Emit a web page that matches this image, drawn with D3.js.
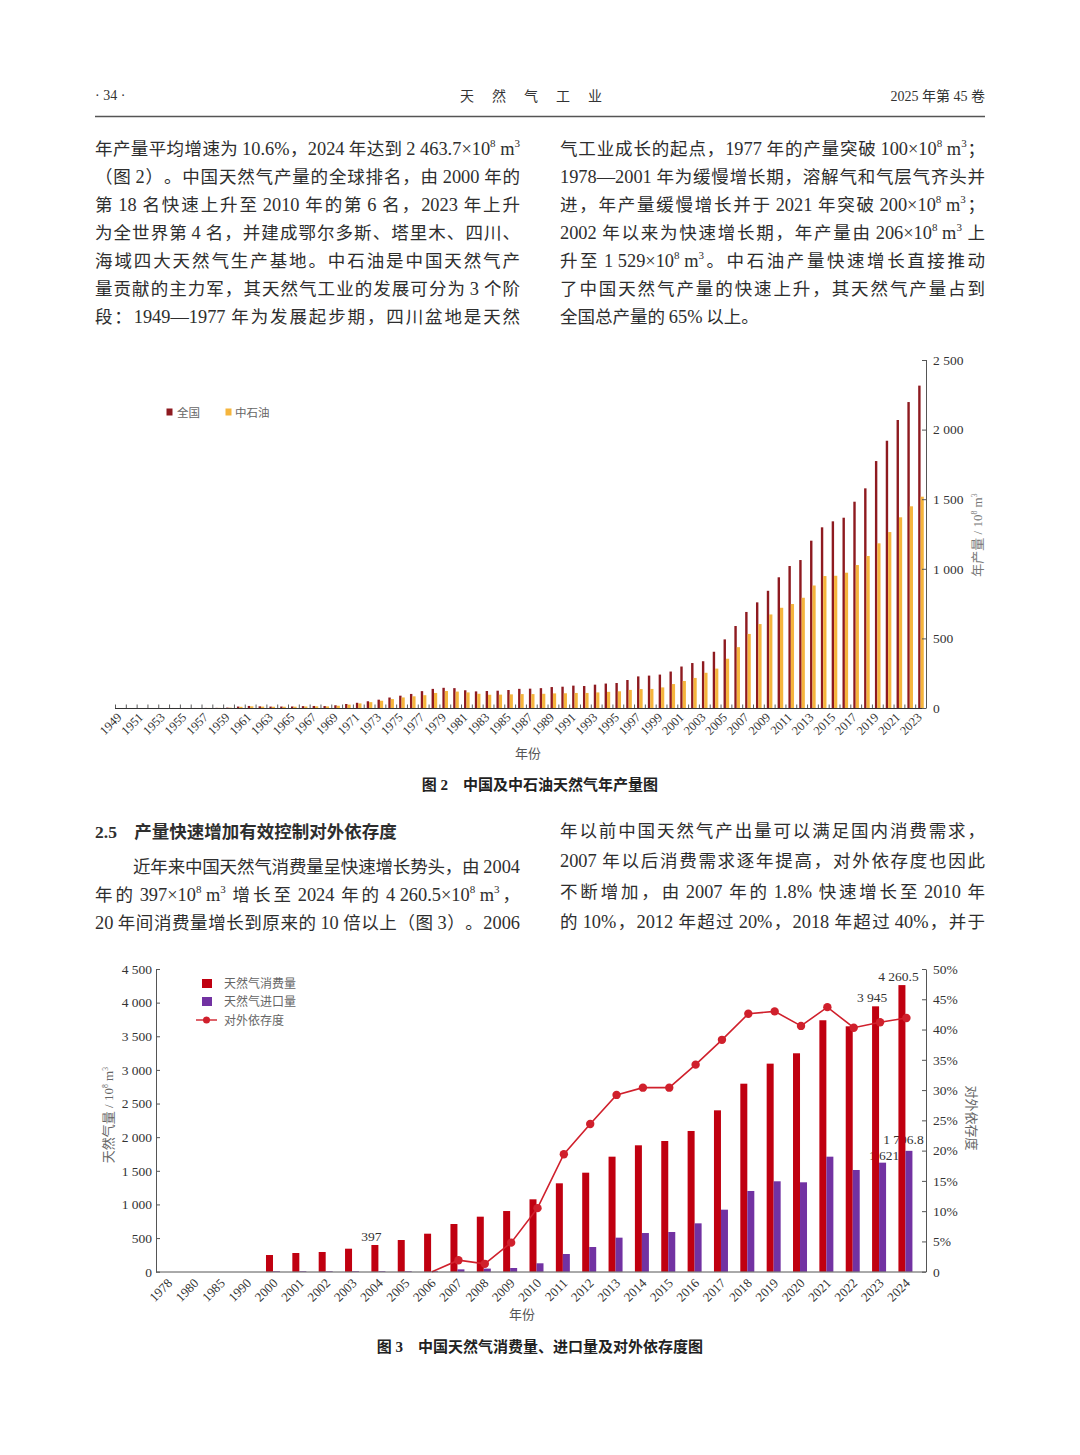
<!DOCTYPE html>
<html><head><meta charset="utf-8">
<script src="https://cdn.jsdelivr.net/npm/d3@7"></script>
<style>body{margin:0;background:#fff}svg{display:block}text{white-space:pre}</style>
</head><body>
<script>
// ---------- Chart 2 data ----------
const prodYears = [1949,1950,1951,1952,1953,1954,1955,1956,1957,1958,1959,1960,1961,1962,1963,1964,1965,1966,1967,1968,1969,
1970,1971,1972,1973,1974,1975,1976,1977,1978,1979,1980,1981,1982,1983,1984,1985,1986,1987,1988,1989,
1990,1991,1992,1993,1994,1995,1996,1997,1998,1999,2000,2001,2002,2003,2004,2005,2006,2007,2008,2009,
2010,2011,2012,2013,2014,2015,2016,2017,2018,2019,2020,2021,2022,2023];
const nationalProd = [0.1,0.1,0.1,0.1,0.1,0.2,0.2,0.3,0.7,1.1,2.9,10.4,14.7,12.1,10.2,10.6,11.0,13.4,14.6,14.0,19.6,
28.7,37.4,48.4,59.8,75.3,88.5,101.0,121.2,137.3,145.1,142.7,127.4,119.3,122.1,124.3,129.3,137.6,138.9,142.6,150.5,
153.0,160.7,157.9,167.7,175.6,179.5,201.1,227.0,232.8,240,262,298,323,336,404,493,589,690,759,842,
939,1020,1063,1202,1298,1341,1367,1482,1578,1774,1920,2069,2198,2316];
const cnpcProd = [0.1,0.1,0.1,0.1,0.1,0.2,0.2,0.3,0.6,1.0,2.5,8.5,12,10,9,9,9.5,11,12,11.5,16,
24,33,42,52,64,76,84,92,108,122,118,112,102,95,96,98,100,100,102,105,
106,108,108,112,116,120,130,136,137,148,172,194,216,253,283,354,437,532,603,672,
720,747,792,880,948,950,972,1027,1092,1183,1264,1370,1449,1518];
const prodTickLabels = ["1949","1951","1953","1955","1957","1959","1961","1963","1965","1967","1969","1971","1973","1975","1977","1979","1981","1983","1985","1987","1989","1991","1993","1995","1997","1999","2001","2003","2005","2007","2009","2011","2013","2015","2017","2019","2021","2023"];
const prodTicks = [0,500,1000,1500,2000,2500];

// ---------- Chart 3 data ----------
const consYears = ["1978","1980","1985","1990","2000","2001","2002","2003","2004","2005","2006","2007","2008","2009","2010","2011","2012","2013","2014","2015","2016","2017","2018","2019","2020","2021","2022","2023","2024"];
const consumption = [null,null,null,null,248,278,293,342,397,471,565,709,818,902,1076,1314,1472,1710,1879,1943,2092,2399,2795,3093,3247,3738,3648,3945,4260.5];
const imports = [null,null,null,null,8,8,8,8,8,8,8,35,46,55,125,263,367,506,575,590,719,922,1200,1344,1329,1710,1512,1621,1796.8];
const dependency = [null,null,null,null,null,null,null,null,null,null,0,1.9,1.3,4.8,10.5,19.4,24.4,29.2,30.4,30.4,34.2,38.3,42.6,43.0,40.6,43.7,40.3,41.2,41.9];
const consLabelYears = ["2004","2023","2024"];
const importLabelYears = ["2023","2024"];
const gasTicks = [0,500,1000,1500,2000,2500,3000,3500,4000,4500];
const depTicks = [0,5,10,15,20,25,30,35,40,45,50];

// ---------- helpers ----------
const SERIF = '"Liberation Serif","Noto Sans CJK SC",serif';
const CJK = '"Liberation Serif","Noto Sans CJK SC",sans-serif';
const fmt = d3.formatLocale({decimal:".",thousands:" ",grouping:[3],currency:["",""]}).format(",");

const svg = d3.select("body").append("svg").attr("width",1080).attr("height",1455);
svg.append("rect").attr("width",1080).attr("height",1455).attr("fill","#fff");

function rich(t, str, fs){
  const parts = str.split(/(\^\d)/);
  let sup = false;
  parts.forEach(p=>{
    if(!p) return;
    if(p[0]==="^"){
      t.append("tspan").attr("font-size",fs*0.6).attr("dy",-fs*0.42).text(p.slice(1));
      sup = true;
    } else {
      const s = t.append("tspan").text(p);
      if(sup){ s.attr("dy",fs*0.42); sup=false; }
    }
  });
  return t;
}
const isCJK = ch => /[\u3001-\u303f\u3400-\u9fff\uff00-\uffef]/.test(ch);
const isPunct = s => /^[，。：；、（）！？]$/.test(s);
// justified line: CJK chars and Latin runs are tokens; extra space spread between tokens
function bodyLine(x,y,w,str,opt={}){
  const fs = opt.fs||17.5;
  const g = svg.append("g").attr("font-family",CJK).attr("font-size",fs).attr("fill","#2e2e2e")
    .attr("font-weight",opt.bold?700:400);
  const toks = []; let buf = "";
  for(const ch of str){
    if(isCJK(ch)){ if(buf.trim()) toks.push({t:buf.trim(),c:false}); buf=""; toks.push({t:ch,c:true}); }
    else buf += ch;
  }
  if(buf.trim()) toks.push({t:buf.trim(),c:false});
  toks.forEach(tk=>{
    const lfs = tk.c ? fs : fs*1.05;
    tk.el = rich(g.append("text").attr("y",y).attr("font-size",lfs),tk.t,lfs);
    tk.w = tk.el.node().getComputedTextLength();
  });
  const base = toks.map((tk,i)=>{
    if(i===0) return 0;
    const p = toks[i-1];
    if(p.c===tk.c) return 0;
    if(isPunct(p.t)||isPunct(tk.t)) return 0;
    return fs*0.22;
  });
  const total = d3.sum(toks,d=>d.w)+d3.sum(base);
  const extra = w && toks.length>1 ? (w-total)/(toks.length-1) : 0;
  let cx = x;
  toks.forEach((tk,i)=>{
    if(i>0) cx += base[i]+extra;
    tk.el.attr("x",cx);
    cx += tk.w;
  });
}

// ---------- header ----------
svg.append("text").attr("x",95).attr("y",100).attr("font-family",SERIF).attr("font-size",14).attr("fill","#333").text("· 34 ·");
svg.append("text").attr("x","460 492 524 556 588").attr("y",101).attr("font-family",CJK).attr("font-size",14).attr("fill","#333").text("天然气工业");
svg.append("text").attr("x",985).attr("y",101).attr("text-anchor","end").attr("font-family",CJK).attr("font-size",14).attr("fill","#333").text("2025 年第 45 卷");
svg.append("line").attr("x1",95).attr("x2",985).attr("y1",116.5).attr("y2",116.5).attr("stroke","#555").attr("stroke-width",1.3);

// ---------- body text block 1 ----------
const L1 = [
 "年产量平均增速为 10.6%，2024 年达到 2 463.7×10^8 m^3",
 "（图 2）。中国天然气产量的全球排名，由 2000 年的",
 "第 18 名快速上升至 2010 年的第 6 名，2023 年上升",
 "为全世界第 4 名，并建成鄂尔多斯、塔里木、四川、",
 "海域四大天然气生产基地。中石油是中国天然气产",
 "量贡献的主力军，其天然气工业的发展可分为 3 个阶",
 "段：1949—1977 年为发展起步期，四川盆地是天然"];
const R1 = [
 "气工业成长的起点，1977 年的产量突破 100×10^8 m^3；",
 "1978—2001 年为缓慢增长期，溶解气和气层气齐头并",
 "进，年产量缓慢增长并于 2021 年突破 200×10^8 m^3；",
 "2002 年以来为快速增长期，年产量由 206×10^8 m^3 上",
 "升至 1 529×10^8 m^3。中石油产量快速增长直接推动",
 "了中国天然气产量的快速上升，其天然气产量占到",
 "全国总产量的 65% 以上。"];
L1.forEach((s,i)=>bodyLine(95,155+i*28,425,s));
R1.forEach((s,i)=>bodyLine(560,155+i*28,i===6?null:425,s));

// ---------- block 2 ----------
svg.append("text").attr("x",95).attr("y",838).attr("font-family",CJK).attr("font-size",17.5).attr("font-weight",700).attr("fill","#2e2e2e").text("2.5　产量快速增加有效控制对外依存度");
bodyLine(133,873,387,"近年来中国天然气消费量呈快速增长势头，由 2004");
bodyLine(95,901,425,"年的 397×10^8 m^3 增长至 2024 年的 4 260.5×10^8 m^3，");
bodyLine(95,929,425,"20 年间消费量增长到原来的 10 倍以上（图 3）。2006");
["年以前中国天然气产出量可以满足国内消费需求，",
 "2007 年以后消费需求逐年提高，对外依存度也因此",
 "不断增加，由 2007 年的 1.8% 快速增长至 2010 年",
 "的 10%，2012 年超过 20%，2018 年超过 40%，并于"].forEach((s,i)=>bodyLine(560,[837,867,898,928][i],425,s));

// ---------- Chart 2 ----------
const g2 = svg.append("g");
const x2 = d3.scaleBand(prodYears,[115,926]);
const y2 = d3.scaleLinear([0,2500],[708,360]);
const bw2 = x2.bandwidth();
g2.selectAll(".nat").data(prodYears).join("rect")
  .attr("x",d=>x2(d)+3).attr("width",2.4)
  .attr("y",(d,i)=>y2(nationalProd[i])).attr("height",(d,i)=>y2(0)-y2(nationalProd[i]))
  .attr("fill","#8E1A20");
g2.selectAll(".cnpc").data(prodYears).join("rect")
  .attr("x",d=>x2(d)+5.4).attr("width",3.2)
  .attr("y",(d,i)=>y2(cnpcProd[i])).attr("height",(d,i)=>y2(0)-y2(cnpcProd[i]))
  .attr("fill","#F5B53D");
g2.append("line").attr("x1",115).attr("x2",926).attr("y1",708.5).attr("y2",708.5).attr("stroke","#333").attr("stroke-width",1);
g2.selectAll(".xt").data(prodYears).join("line")
  .attr("x1",d=>x2(d)+0.5).attr("x2",d=>x2(d)+0.5).attr("y1",708).attr("y2",704.5)
  .attr("stroke","#333").attr("stroke-width",0.8);
g2.selectAll(".xl").data(prodTickLabels).join("text")
  .attr("transform",d=>`translate(${x2(+d)+bw2/2+2},718) rotate(-45)`)
  .attr("text-anchor","end").attr("font-family",SERIF).attr("font-size",12.5).attr("fill","#333").text(d=>d);
const ax2 = g2.append("g").attr("transform","translate(926,0)")
  .call(d3.axisRight(y2).tickValues(prodTicks).tickSize(-4).tickSizeOuter(0).tickPadding(7).tickFormat(fmt));
ax2.selectAll("path,line").attr("stroke","#555");
ax2.selectAll("text").attr("font-family",SERIF).attr("font-size",13.5).attr("fill","#333");
ax2.select(".domain").attr("d","M0.5,360V708.5");
rich(g2.append("text").attr("transform","translate(982,535) rotate(-90)").attr("text-anchor","middle")
  .attr("font-family",CJK).attr("font-size",13).attr("fill","#777"),"年产量 / 10^8 m^3",13);
g2.append("text").attr("x",528).attr("y",758).attr("text-anchor","middle").attr("font-family",CJK).attr("font-size",13).attr("fill","#555").text("年份");
g2.append("rect").attr("x",166.5).attr("y",408.5).attr("width",6).attr("height",7).attr("fill","#8E1A20");
g2.append("text").attr("x",177).attr("y",416.5).attr("font-family",CJK).attr("font-size",11.5).attr("fill","#666").text("全国");
g2.append("rect").attr("x",225.5).attr("y",408.5).attr("width",6).attr("height",7).attr("fill","#F5B53D");
g2.append("text").attr("x",235).attr("y",416.5).attr("font-family",CJK).attr("font-size",11.5).attr("fill","#666").text("中石油");
svg.append("text").attr("x",540).attr("y",790).attr("text-anchor","middle").attr("font-family",CJK).attr("font-size",15).attr("font-weight",700).attr("fill","#222").text("图 2　中国及中石油天然气年产量图");

// ---------- Chart 3 ----------
const g3 = svg.append("g");
const x3 = d3.scaleBand(consYears,[155.4,919.6]);
const c3 = d=>x3(d)+x3.bandwidth()/2;
const y3 = d3.scaleLinear([0,4500],[1271.7,969]);
const yr = d3.scaleLinear([0,50],[1271.7,969]);
consLabelYears.forEach(yy=>{
  const i = consYears.indexOf(yy);
  g3.append("text").attr("x",c3(yy)-8).attr("y",y3(consumption[i])-4).attr("text-anchor","middle")
    .attr("font-family",SERIF).attr("font-size",13.5).attr("fill","#333").text(fmt(consumption[i]));
});
importLabelYears.forEach(yy=>{
  const i = consYears.indexOf(yy);
  const last = yy==="2024";
  g3.append("text").attr("x",c3(yy)+(last?-3:4)).attr("y",y3(imports[i])-(last?7:3)).attr("text-anchor","middle")
    .attr("font-family",SERIF).attr("font-size",13.5).attr("fill","#333").text(fmt(imports[i]));
});
g3.selectAll(".cons").data(consYears.filter((d,i)=>consumption[i]!=null)).join("rect")
  .attr("x",d=>c3(d)-8).attr("width",7)
  .attr("y",d=>y3(consumption[consYears.indexOf(d)])).attr("height",d=>y3(0)-y3(consumption[consYears.indexOf(d)]))
  .attr("fill","#C00010");
g3.selectAll(".imp").data(consYears.filter((d,i)=>imports[i]!=null)).join("rect")
  .attr("x",d=>c3(d)-1).attr("width",7)
  .attr("y",d=>y3(imports[consYears.indexOf(d)])).attr("height",d=>y3(0)-y3(imports[consYears.indexOf(d)]))
  .attr("fill","#7232A2");
const depPts = consYears.map((d,i)=>[d,dependency[i]]);
g3.append("path").datum(depPts)
  .attr("d",d3.line().defined(d=>d[1]!=null).x(d=>c3(d[0])).y(d=>yr(d[1])))
  .attr("fill","none").attr("stroke","#D0202C").attr("stroke-width",1.6);
g3.selectAll(".dot").data(depPts.filter(d=>d[1]!=null && d[1]>0)).join("circle")
  .attr("cx",d=>c3(d[0])).attr("cy",d=>yr(d[1])).attr("r",4.2).attr("fill","#D0202C");
g3.append("line").attr("x1",156).attr("x2",926).attr("y1",1272).attr("y2",1272).attr("stroke","#555");
const axL = g3.append("g").attr("transform","translate(156,0)")
  .call(d3.axisLeft(y3).tickValues(gasTicks).tickSize(-4).tickSizeOuter(0).tickPadding(4).tickFormat(fmt));
axL.selectAll("path,line").attr("stroke","#555");
axL.selectAll("text").attr("font-family",SERIF).attr("font-size",13.5).attr("fill","#333");
const axR = g3.append("g").attr("transform","translate(926,0)")
  .call(d3.axisRight(yr).tickValues(depTicks).tickSize(-4).tickSizeOuter(0).tickPadding(7).tickFormat(v=>v===0?"0":v+"%"));
axR.selectAll("path,line").attr("stroke","#555");
axR.selectAll("text").attr("font-family",SERIF).attr("font-size",13.5).attr("fill","#333");
g3.selectAll(".xl3").data(consYears).join("text")
  .attr("transform",d=>`translate(${c3(d)+4.5},1284) rotate(-45)`)
  .attr("text-anchor","end").attr("font-family",SERIF).attr("font-size",13).attr("fill","#333").text(d=>d);
rich(g3.append("text").attr("transform","translate(113,1115) rotate(-90)").attr("text-anchor","middle")
  .attr("font-family",CJK).attr("font-size",13).attr("fill","#666"),"天然气量 / 10^8 m^3",13);
g3.append("text").attr("transform","translate(967,1118) rotate(90)").attr("text-anchor","middle")
  .attr("font-family",CJK).attr("font-size",13).attr("fill","#666").text("对外依存度");
g3.append("text").attr("x",522).attr("y",1319).attr("text-anchor","middle").attr("font-family",CJK).attr("font-size",13).attr("fill","#555").text("年份");
g3.append("rect").attr("x",202).attr("y",979).attr("width",10).attr("height",9).attr("fill","#C00010");
g3.append("text").attr("x",224).attr("y",988).attr("font-family",CJK).attr("font-size",12).attr("fill","#666").text("天然气消费量");
g3.append("rect").attr("x",202).attr("y",997).attr("width",10).attr("height",9).attr("fill","#7232A2");
g3.append("text").attr("x",224).attr("y",1006).attr("font-family",CJK).attr("font-size",12).attr("fill","#666").text("天然气进口量");
g3.append("line").attr("x1",196).attr("x2",217).attr("y1",1020).attr("y2",1020).attr("stroke","#D0202C").attr("stroke-width",1.4);
g3.append("circle").attr("cx",206.5).attr("cy",1020).attr("r",3.5).attr("fill","#D0202C");
g3.append("text").attr("x",224).attr("y",1025).attr("font-family",CJK).attr("font-size",12).attr("fill","#666").text("对外依存度");
svg.append("text").attr("x",540).attr("y",1352).attr("text-anchor","middle").attr("font-family",CJK).attr("font-size",15).attr("font-weight",700).attr("fill","#222").text("图 3　中国天然气消费量、进口量及对外依存度图");
</script>
</body></html>
